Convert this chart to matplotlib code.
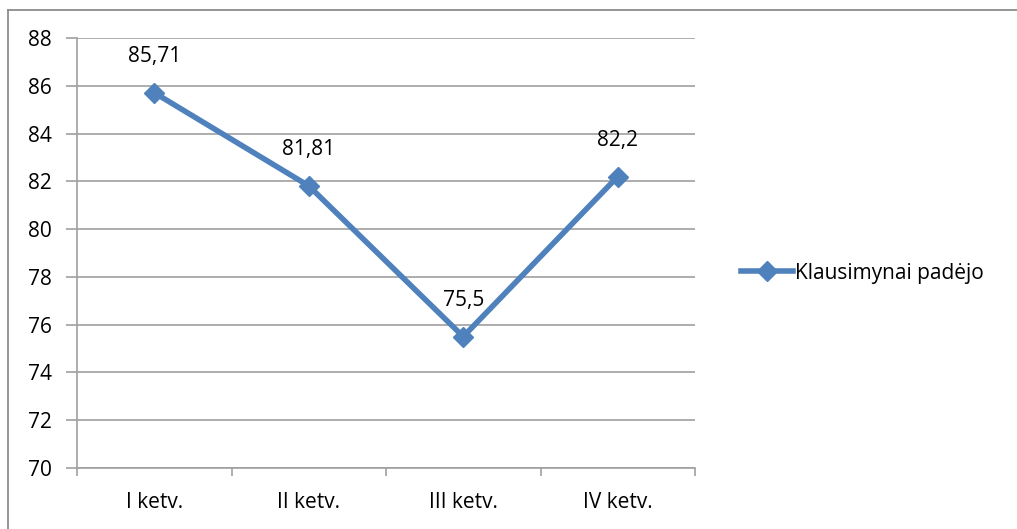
import matplotlib.pyplot as plt
from matplotlib.lines import Line2D

categories = ['I ketv.', 'II ketv.', 'III ketv.', 'IV ketv.']
values = [85.71, 81.81, 75.5, 82.2]
value_labels = ['85,71', '81,81', '75,5', '82,2']
series_name = 'Klausimynai padėjo'
y_ticks = [70, 72, 74, 76, 78, 80, 82, 84, 86, 88]

W, H = 1017, 529
plt.rcParams['font.family'] = ['Open Sans', 'DejaVu Sans']
fig = plt.figure(figsize=(W / 100, H / 100), dpi=100)

# outer chart border: only top and left edges are visible in the crop
border = '#8c8c8c'
fig.add_artist(Line2D([8 / W, 1.0], [1 - 9.5 / H] * 2, transform=fig.transFigure,
                      color=border, linewidth=1.3))
fig.add_artist(Line2D([8 / W] * 2, [0, 1 - 9.5 / H], transform=fig.transFigure,
                      color=border, linewidth=1.3))

ax = fig.add_axes([77 / W, 1 - 468 / H, (695 - 77) / W, (468 - 38) / H])
grid_c = '#a0a0a0'
color = '#4f81bd'
fs = 15

x = list(range(len(categories)))
ax.plot(x, values, color=color, linewidth=4, marker='D', markersize=10,
        markeredgecolor=color, solid_capstyle='round', zorder=3, clip_on=False)

for xi, v, lab in zip(x, values, value_labels):
    ax.annotate(lab, (xi, v), xytext=(0, 36), textcoords='offset pixels',
                ha='center', va='center', fontsize=fs, color='#000000')

ax.set_xlim(-0.5, 3.5)
ax.set_ylim(70, 88)
ax.set_yticks(y_ticks)
ax.set_yticklabels([str(t) for t in y_ticks], fontsize=fs)
ax.set_xticks([-0.5, 0.5, 1.5, 2.5, 3.5])
ax.set_xticklabels([])
ax.set_xticks(x, minor=True)
ax.set_xticklabels(categories, minor=True, fontsize=fs)
ax.tick_params(axis='x', which='minor', length=0, pad=17)
ax.tick_params(axis='x', which='major', length=6, color=grid_c, width=1.2)
ax.tick_params(axis='y', length=8, color=grid_c, width=1.2, pad=10)

ax.yaxis.grid(True, color=grid_c, linewidth=1.2)
ax.set_axisbelow(True)
for s in ['top', 'right']:
    ax.spines[s].set_visible(False)
for s in ['left', 'bottom']:
    ax.spines[s].set_color(grid_c)
    ax.spines[s].set_linewidth(1.2)

handle = Line2D([], [], color=color, linewidth=4, marker='D', markersize=10,
                markeredgecolor=color)
fig.legend([handle], [series_name], loc='center left',
           bbox_to_anchor=(722 / W, 1 - 273 / H), frameon=False,
           fontsize=fs, handlelength=2.5, handletextpad=0.1)

fig.savefig('out.png', dpi=100)
